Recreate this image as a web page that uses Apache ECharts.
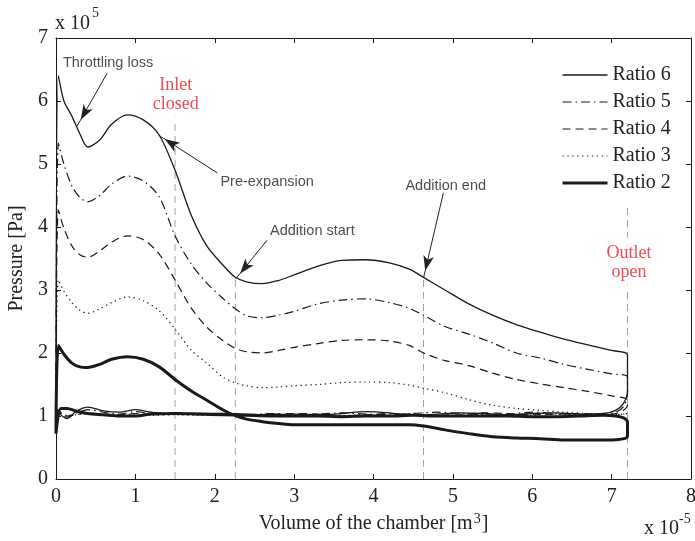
<!DOCTYPE html>
<html>
<head>
<meta charset="utf-8">
<script src="https://cdn.jsdelivr.net/npm/echarts@6/dist/echarts.min.js"></script>
<style>
  html, body { margin: 0; padding: 0; background: #fff; }
  #chart { width: 695px; height: 541px; }
</style>
</head>
<body>
<div id="chart"></div>
<script>
// Chamber volume (x 1e-5 m^3) sampled along the expansion stroke
const volExpansion = [0.03, 0.1, 0.2, 0.3, 0.4, 0.55, 0.7, 0.9, 1.1, 1.3, 1.5, 1.7, 1.9, 2.1, 2.25, 2.4, 2.6, 2.8, 3.0, 3.3, 3.6, 3.9, 4.2, 4.45, 4.63, 4.9, 5.2, 5.5, 5.8, 6.1, 6.4, 6.7, 7.0, 7.2];
// Chamber volume sampled along the discharge / return stroke
const volReturn = [7.2, 7.15, 7.05, 6.9, 6.6, 6.3, 6.0, 5.7, 5.4, 5.1, 4.8, 4.5, 4.2, 3.9, 3.6, 3.3, 3.0, 2.7, 2.4, 2.1, 1.8, 1.5, 1.2, 1.0, 0.8, 0.6, 0.4, 0.25, 0.14, 0.06, 0];

// Pressure (x 1e5 Pa) on the expansion stroke
const pExpRatio6 = [6.4, 6.0, 5.76, 5.48, 5.27, 5.38, 5.63, 5.78, 5.7, 5.46, 4.9, 4.2, 3.7, 3.4, 3.21, 3.13, 3.1, 3.15, 3.24, 3.38, 3.47, 3.48, 3.43, 3.33, 3.2, 3.0, 2.78, 2.6, 2.45, 2.33, 2.22, 2.13, 2.04, 1.97];
const pExpRatio5 = [5.33, 5.0, 4.65, 4.47, 4.4, 4.5, 4.68, 4.81, 4.73, 4.48, 3.86, 3.42, 3.11, 2.87, 2.71, 2.59, 2.56, 2.6, 2.66, 2.78, 2.84, 2.86, 2.8, 2.71, 2.6, 2.42, 2.3, 2.16, 2.0, 1.92, 1.82, 1.74, 1.67, 1.62];
const pExpRatio4 = [4.27, 3.98, 3.7, 3.56, 3.52, 3.62, 3.76, 3.86, 3.8, 3.57, 3.16, 2.72, 2.41, 2.2, 2.08, 2.02, 2.0, 2.04, 2.09, 2.15, 2.2, 2.21, 2.19, 2.12, 2.0, 1.88, 1.8, 1.68, 1.58, 1.51, 1.45, 1.39, 1.32, 1.26];
const pExpRatio3 = [3.16, 2.98, 2.8, 2.68, 2.63, 2.7, 2.8, 2.89, 2.83, 2.67, 2.38, 2.05, 1.84, 1.62, 1.53, 1.48, 1.45, 1.46, 1.48, 1.5, 1.53, 1.54, 1.53, 1.49, 1.44, 1.37, 1.26, 1.17, 1.12, 1.09, 1.06, 1.04, 1.02, 1.04];
const pExpRatio2 = [2.12, 1.98, 1.84, 1.78, 1.77, 1.82, 1.9, 1.94, 1.9, 1.78, 1.58, 1.4, 1.25, 1.1, 1.01, 0.95, 0.91, 0.88, 0.86, 0.86, 0.86, 0.86, 0.86, 0.86, 0.84, 0.78, 0.72, 0.67, 0.65, 0.64, 0.62, 0.62, 0.62, 0.68];

// Pressure (x 1e5 Pa) on the return stroke
const pRetRatio6 = [1.4, 1.2, 1.09, 1.04, 1.03, 1.05, 1.04, 1.02, 1.04, 1.05, 1.03, 1.01, 1.05, 1.07, 1.04, 1.02, 1.03, 1.02, 1.03, 1.04, 1.04, 1.03, 1.06, 1.1, 1.06, 1.08, 1.14, 1.07, 0.96, 1.02, 1.1];
const pRetRatio5 = [1.35, 1.15, 1.06, 1.03, 1.02, 1.04, 1.06, 1.03, 1.02, 1.04, 1.06, 1.04, 1.02, 1.03, 1.05, 1.03, 1.02, 1.04, 1.02, 1.02, 1.03, 1.05, 1.04, 1.07, 1.03, 1.06, 1.1, 1.04, 0.98, 1.04, 1.12];
const pRetRatio4 = [1.18, 1.09, 1.04, 1.02, 1.04, 1.03, 1.02, 1.04, 1.05, 1.02, 1.01, 1.03, 1.04, 1.02, 1.0, 1.03, 1.04, 1.03, 1.01, 1.03, 1.02, 1.04, 1.02, 1.04, 1.02, 1.03, 1.05, 1.02, 1.0, 1.06, 1.12];
const pRetRatio3 = [1.04, 1.03, 1.02, 1.02, 1.03, 1.02, 1.01, 1.03, 1.02, 1.01, 1.02, 1.02, 1.01, 1.02, 1.01, 1.02, 1.02, 1.01, 1.02, 1.02, 1.01, 1.02, 1.01, 1.03, 1.01, 1.02, 1.04, 1.02, 1.01, 1.05, 1.1];
const pRetRatio2 = [0.9, 0.97, 1.0, 1.01, 1.0, 0.99, 0.99, 1.0, 1.0, 1.0, 1.0, 1.01, 1.0, 1.0, 0.99, 1.0, 1.0, 1.0, 1.01, 1.02, 1.03, 1.04, 1.03, 1.0, 1.0, 1.02, 1.04, 1.08, 1.12, 1.12, 0.72];

const seriesNames = ['Ratio 6', 'Ratio 5', 'Ratio 4', 'Ratio 3', 'Ratio 2'];

// Port events: inlet closed, addition start, addition end, outlet open
const eventVolumes = [1.5, 2.26, 4.63, 7.2];
const eventTops = [5.78, 3.17, 3.19, 4.38];
const eventLabels = ['Inlet\nclosed', 'Outlet\nopen'];
const eventLabelPos = [[1.51, 6.10], [7.22, 3.44]];

// Callouts
const noteTexts = ['Throttling loss', 'Pre-expansion', 'Addition start', 'Addition end'];
const notePos = [[0.656, 6.60], [2.66, 4.71], [3.23, 3.94], [4.91, 4.65]];
const arrowFrom = [[0.644, 6.44], [2.03, 4.86], [2.66, 3.79], [4.88, 4.54]];
const arrowTo = [[0.265, 5.60], [1.29, 5.46], [2.26, 3.17], [4.63, 3.19]];

const xTicks = [0, 1, 2, 3, 4, 5, 6, 7, 8];
const yTicks = [0, 1, 2, 3, 4, 5, 6, 7];

const SERIF = '"Liberation Serif", "Times New Roman", serif';
const SANS = '"Liberation Sans", Arial, sans-serif';
const INK = '#1a1a1a';

// Build one closed p-V loop: expansion stroke then return stroke
function cycle(pExp, pRet) {
  const pts = [[volReturn[volReturn.length - 1], pRet[pRet.length - 1]]];
  volExpansion.forEach((v, i) => pts.push([v, pExp[i]]));
  volReturn.forEach((v, i) => pts.push([v, pRet[i]]));
  return pts;
}

const styles = {
  'Ratio 6': { width: 1.3, type: 'solid' },
  'Ratio 5': { width: 1.2, type: [9, 4, 1.5, 4] },
  'Ratio 4': { width: 1.2, type: [8, 5] },
  'Ratio 3': { width: 1.2, type: [1.3, 3.6] },
  'Ratio 2': { width: 3, type: 'solid' }
};
const loops = {
  'Ratio 6': cycle(pExpRatio6, pRetRatio6),
  'Ratio 5': cycle(pExpRatio5, pRetRatio5),
  'Ratio 4': cycle(pExpRatio4, pRetRatio4),
  'Ratio 3': cycle(pExpRatio3, pRetRatio3),
  'Ratio 2': cycle(pExpRatio2, pRetRatio2)
};

const series = [];

// grey dashed event markers
eventVolumes.forEach((v, i) => {
  series.push({
    type: 'line', silent: true, symbol: 'none', z: 1,
    data: [[v, 0], [v, eventTops[i]]],
    lineStyle: { color: '#a3a3a3', width: 1, type: [7, 5] }
  });
});

seriesNames.forEach(name => {
  series.push({
    name, type: 'line', symbol: 'none', silent: true, smooth: 0.3, z: 3,
    color: INK,
    itemStyle: { color: INK },
    data: loops[name],
    lineStyle: { color: INK, width: styles[name].width, type: styles[name].type, cap: 'butt', join: 'round' }
  });
});

// callout texts and arrows
series.push({
  type: 'scatter', symbolSize: 0, silent: true, z: 10,
  data: noteTexts.map((t, i) => ({ name: t, value: notePos[i] })),
  label: { show: true, position: 'inside', formatter: '{b}', fontFamily: SANS, fontSize: 14.5, color: '#222' },
  markLine: {
    silent: true, animation: false,
    symbol: ['none', 'arrow'],
    lineStyle: { color: '#222', width: 1, type: 'solid' },
    label: { show: false },
    emphasis: { disabled: true },
    data: arrowFrom.map((f, i) => [
      { coord: f, symbol: 'none' },
      { coord: arrowTo[i], symbol: 'arrow', symbolSize: [8, 15], symbolOffset: [0, 7.5] }
    ])
  }
});

// red event captions
series.push({
  type: 'scatter', symbolSize: 0, silent: true, z: 10,
  data: eventLabels.map((t, i) => ({ name: t, value: eventLabelPos[i] })),
  label: { show: true, position: 'inside', formatter: '{b}', fontFamily: SERIF, fontSize: 18, lineHeight: 19, color: '#ec1c24', backgroundColor: '#fff', padding: [6, 2] }
});

const axisCommon = {
  axisLine: { show: true, onZero: false, lineStyle: { color: INK, width: 1 } },
  axisTick: { show: true, inside: true, length: 5, lineStyle: { color: INK, width: 1 } },
  splitLine: { show: false }
};

const chart = echarts.init(document.getElementById('chart'), null, { renderer: 'canvas' });
chart.setOption({
  animation: false,
  backgroundColor: '#fff',
  grid: { left: 56, right: 4, top: 38, bottom: 62, containLabel: false, outerBoundsMode: 'none' },
  legend: {
    orient: 'vertical', left: 556, top: 60,
    itemWidth: 45, itemHeight: 14, itemGap: 7,
    selectedMode: false,
    itemStyle: { color: 'rgba(0,0,0,0)', borderWidth: 0, opacity: 0 },
    textStyle: { fontFamily: SERIF, fontSize: 20, color: '#222', lineHeight: 20 },
    data: seriesNames.map(n => ({
      name: n,
      itemStyle: { color: 'rgba(0,0,0,0)', borderWidth: 0, opacity: 0 },
      lineStyle: { width: styles[n].width, type: styles[n].type, color: INK }
    }))
  },
  xAxis: [
    Object.assign({
      type: 'value', min: xTicks[0], max: xTicks[xTicks.length - 1], interval: 1, position: 'bottom',
      axisLabel: { margin: 8, fontFamily: SERIF, fontSize: 20, color: '#222' },
      name: 'Volume of the chamber [m{sup|3}]', nameLocation: 'middle', nameGap: 31,
      nameTextStyle: {
        fontFamily: SERIF, fontSize: 20, color: '#222',
        rich: { sup: { fontFamily: SERIF, fontSize: 14, color: '#222', verticalAlign: 'top', padding: [0, 1, 9, 1] } }
      }
    }, axisCommon),
    Object.assign({
      type: 'value', min: xTicks[0], max: xTicks[xTicks.length - 1], interval: 1, position: 'top',
      axisLabel: { show: false }
    }, axisCommon)
  ],
  yAxis: [
    Object.assign({
      type: 'value', min: yTicks[0], max: yTicks[yTicks.length - 1], interval: 1, position: 'left',
      axisLabel: { margin: 8, fontFamily: SERIF, fontSize: 20, color: '#222' },
      name: 'Pressure [Pa]', nameLocation: 'middle', nameGap: 23, nameRotate: 90,
      nameTextStyle: { fontFamily: SERIF, fontSize: 20, color: '#222' }
    }, axisCommon),
    Object.assign({
      type: 'value', min: yTicks[0], max: yTicks[yTicks.length - 1], interval: 1, position: 'right',
      axisLabel: { show: false }
    }, axisCommon)
  ],
  graphic: [
    { type: 'text', left: 55, top: 14, style: { text: 'x 10', font: '20px ' + SERIF, fill: '#222' } },
    { type: 'text', left: 92, top: 6, style: { text: '5', font: '14px ' + SERIF, fill: '#222' } },
    { type: 'text', left: 644, top: 519, style: { text: 'x 10', font: '20px ' + SERIF, fill: '#222' } },
    { type: 'text', left: 679, top: 512, style: { text: '-5', font: '14px ' + SERIF, fill: '#222' } }
  ],
  series
});
</script>
</body>
</html>
